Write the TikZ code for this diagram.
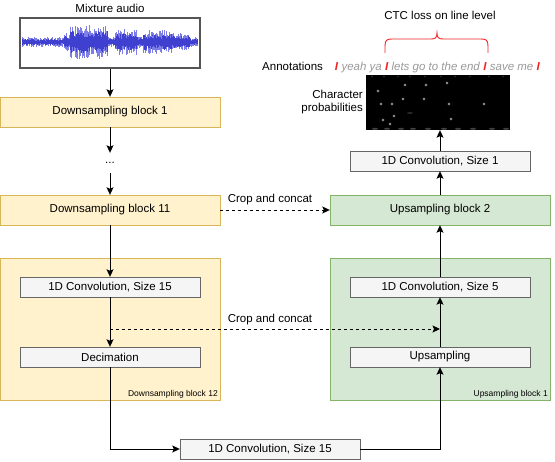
\documentclass[tikz,border=0pt]{standalone}
\usepackage{fontspec}
\setmainfont{Liberation Sans}
\usetikzlibrary{arrows.meta,calc}
\definecolor{dsfill}{HTML}{FFF2CC}
\definecolor{dsline}{HTML}{D6B656}
\definecolor{usfill}{HTML}{D5E8D4}
\definecolor{usline}{HTML}{82B366}
\definecolor{infill}{HTML}{F5F5F5}
\definecolor{inline}{HTML}{666666}
\definecolor{wavebox}{HTML}{555555}
\definecolor{wavelight}{HTML}{7E7EE8}
\definecolor{wavedark}{HTML}{4040D0}
\definecolor{anngray}{HTML}{999999}
\definecolor{annred}{HTML}{EE2222}
\newcommand{\annsep}{\textcolor{annred}{\textbf{\textit{I}}}}
\newcommand{\anntxt}[1]{\textcolor{anngray}{\textit{#1}}}
\begin{document}
\begin{tikzpicture}[x=1pt,y=-1pt,
  every node/.style={font=\fontsize{11.5}{13.5}\selectfont, inner sep=0pt},
  dsblk/.style={draw=dsline, fill=dsfill, minimum width=220pt, minimum height=30pt},
  usblk/.style={draw=usline, fill=usfill, minimum width=220pt, minimum height=30pt},
  innerbox/.style={draw=inline, fill=infill, minimum width=180pt, minimum height=20pt},
  arr/.style={-{Stealth[length=7.5pt,width=7pt,inset=1.5pt]}, line width=0.9pt},
  dasharr/.style={arr, dash pattern=on 3pt off 3pt},
  smalllbl/.style={font=\fontsize{8.5}{10}\selectfont},
  wl/.style={draw=wavelight, line width=0.8pt},
  wd/.style={draw=wavedark, line width=0.8pt},
]
\useasboundingbox (0,0) rectangle (555,462);

% left column
\node (mixlbl) at (110,8) {Mixture audio};
\node[draw=wavebox, line width=1.5pt, minimum width=180pt, minimum height=50pt, fill=white] (wave) at (110,43) {};
\pgfmathsetseed{7}
\foreach \xa/\xb/\amp in {22/64/5, 64/70/9, 70/108/17, 108/115/6, 115/138/13, 138/143/6, 143/172/12, 172/190/9, 190/198/5} {
  \pgfmathsetmacro\xs{\xa+0.7}
  \foreach \x in {\xa,\xs,...,\xb} {
    \pgfmathsetmacro\ha{\amp*(0.3+0.7*rnd)}
    \pgfmathsetmacro\hb{\amp*(0.3+0.7*rnd)}
    \pgfmathsetmacro\hc{0.65*\amp*(0.4+0.6*rnd)}
    \pgfmathsetmacro\hd{0.65*\amp*(0.4+0.6*rnd)}
    \draw[wl] (\x,42-\ha) -- (\x,42+\hb);
    \draw[wd] (\x,42-\hc) -- (\x,42+\hd);
  }
}
\node[dsblk] (ds1) at (110,112) {Downsampling block 1};
\node[minimum height=20pt] (dots) at (110,163) {...};
\node[dsblk] (ds11) at (110,210) {Downsampling block 11};
\node[dsblk, minimum height=142pt] (ds12) at (110,329) {};
\node[smalllbl, anchor=south east] (ds12lbl) at (218,398) {Downsampling block 12};
\node[innerbox] (c15) at (110,287) {1D Convolution, Size 15};
\node[innerbox] (dec) at (110,357) {Decimation};
\node[innerbox] (bc) at (270,449) {1D Convolution, Size 15};

% right column
\node[usblk, minimum height=142pt] (us1) at (440,329) {};
\node[smalllbl, anchor=south east] (us1lbl) at (548,398) {Upsampling block 1};
\node[innerbox] (c5) at (440,287) {1D Convolution, Size 5};
\node[innerbox] (ups) at (440,357) {Upsampling};
\node[usblk] (us2) at (440,210) {Upsampling block 2};
\node[innerbox] (c1) at (440,161) {1D Convolution, Size 1};
\node[fill=black, minimum width=144pt, minimum height=55pt] (img) at (438,102.5) {};
\foreach \px in {372,384,398,410,425,441,455,470,489,503} {
  \fill[black!80] (\px,76.5) circle (0.8pt);
  \fill[black!75] (\px+3,128.8) ellipse (3pt and 1pt);
}
\foreach \px/\py in {378/91,405/85,426/85,447/83,403/99,424/99,381/104,392/104,449/104,484/104,394/116,383/120,390/124,451/119} {
  \fill[black!70] (\px,\py) circle (1.6pt);
  \fill[black!25] (\px,\py) circle (0.8pt);
}
\fill[black!80] (410,113) ellipse (3pt and 0.8pt);
\node[anchor=east, align=right] (cplbl) at (363,102) {Character\\probabilities};
\node[anchor=west] (ann) at (262,68) {Annotations\hspace{12pt}\annsep\ \anntxt{yeah ya} \annsep\ \anntxt{lets go to the end} \annsep\ \anntxt{save me} \annsep};
\node (ctc) at (440,15) {CTC loss on line level};
\draw[annred, line width=0.9pt] (385,53) -- (385,46) .. controls (385,40) and (387,39) .. (392,39) -- (431,39) .. controls (435,39) and (437,38) .. (437,33) .. controls (437,38) and (439,39) .. (443,39) -- (481,39) .. controls (486,39) and (488,40) .. (488,46) -- (488,53);

% connectors
\draw[arr] (wave.south) -- (ds1.north);
\draw[arr] (ds1.south) -- (dots.north);
\draw[arr] (dots.south) -- (ds11.north);
\draw[arr] (ds11.south) -- (c15.north);
\draw[arr] (c15.south) -- (dec.north);
\draw[arr] (dec.south) |- (bc.west);
\draw[arr] (bc.east) -| (ups.south);
\draw[arr] (ups.north) -- (c5.south);
\draw[arr] (c5.north) -- (us2.south);
\draw[arr] (us2.north) -- (c1.south);
\draw[arr] (c1.north) -- (c1.north |- img.south);
\draw[dasharr] (ds11.east) -- (us2.west);
\node (cc1) at (270,200) {Crop and concat};
\coordinate (d1) at (110,329);
\coordinate (d2) at (440,329);
\draw[dasharr] (d1) -- (d2);
\node (cc2) at (270,320) {Crop and concat};
\end{tikzpicture}
\end{document}
